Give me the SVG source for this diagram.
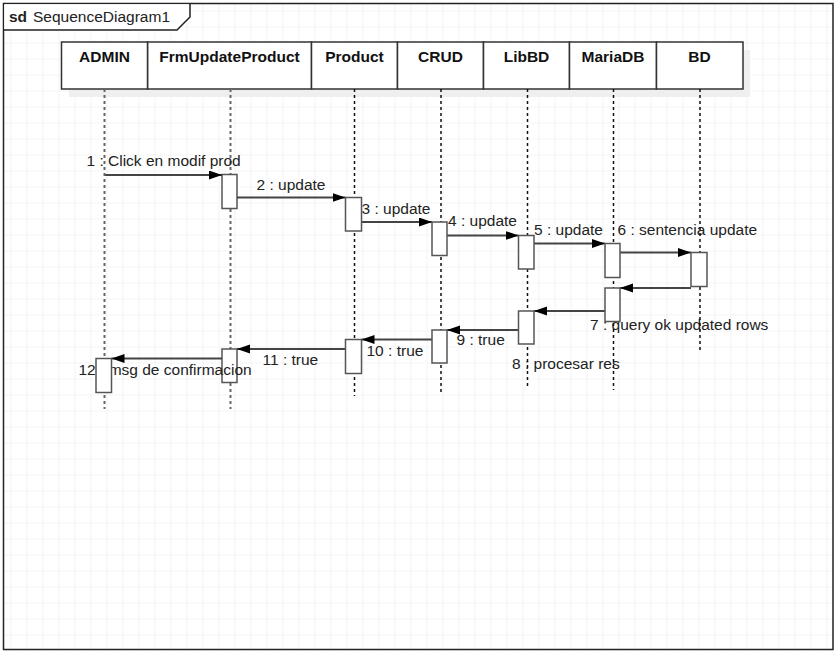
<svg xmlns="http://www.w3.org/2000/svg" width="838" height="651" viewBox="0 0 838 651">
<style>
text{font-family:"Liberation Sans",Arial,sans-serif;font-size:15.5px;fill:#222}
.hd{font-weight:bold;text-anchor:middle;fill:#111}
.head{fill:#fff;stroke:#333;stroke-width:1.5}
.life1{stroke:#666;stroke-width:2;stroke-dasharray:3 3;fill:none}
.life2{stroke:#111;stroke-width:1.5;stroke-dasharray:3 3;fill:none}
.act{fill:#fff;stroke:#555;stroke-width:1.5}
.msg{stroke:#444;stroke-width:1.8;fill:none;marker-end:url(#ah)}
</style>
<defs>
<pattern id="grid" x="10.5" y="10.5" width="16" height="16" patternUnits="userSpaceOnUse">
<path d="M0 0H16M0 0V16" stroke="#ebebeb" stroke-width="1.2" fill="none"/>
</pattern>
<marker id="ah" markerUnits="userSpaceOnUse" markerWidth="14" markerHeight="10" refX="13" refY="4.5" orient="auto">
<path d="M0,0 L13,4.5 L0,9 z" fill="#000"/>
</marker>
</defs>
<rect width="838" height="651" fill="#fff"/>
<rect x="3" y="3" width="830" height="648" fill="url(#grid)"/>
<g id="frame">
<rect x="3.5" y="3.5" width="829.5" height="646" fill="none" stroke="#222" stroke-width="1.5"/>
<path d="M4.3 29.3H176.6L189.3 16.8V4.3H4.3z" fill="#fff"/>
<path d="M3.5 30H177L190 17V3.5" fill="none" stroke="#222" stroke-width="1.5"/>
<text x="9" y="21.5"><tspan font-weight="bold">sd</tspan><tspan x="33">SequenceDiagram1</tspan></text>
</g>
<rect x="69" y="50" width="681" height="47" fill="#efefef"/>
<g id="FrmUpdateProduct">
<rect class="head" x="147.5" y="42" width="164" height="47"/>
<text class="hd" x="229.5" y="61.5">FrmUpdateProduct</text>
<line class="life1" x1="230.5" y1="89" x2="230.5" y2="409"/>
<rect class="act" x="222" y="174.5" width="15" height="34"/>
<rect class="act" x="222" y="349" width="15" height="33.5"/>
</g>
<g id="connectors">
<line class="msg" x1="104.5" y1="175" x2="222" y2="175"/>
<text x="86.5" y="166">1 : Click en modif prod</text>
<line class="msg" x1="237" y1="197.5" x2="345.5" y2="197.5"/>
<text x="256.5" y="190">2 : update</text>
<line class="msg" x1="361.5" y1="222" x2="432" y2="222"/>
<text x="361.5" y="213.5">3 : update</text>
<line class="msg" x1="447" y1="235.5" x2="518.5" y2="235.5"/>
<text x="448" y="226">4 : update</text>
<line class="msg" x1="534" y1="243.5" x2="605" y2="243.5"/>
<text x="534" y="235">5 : update</text>
<line class="msg" x1="620" y1="252.5" x2="691" y2="252.5"/>
<text x="617.5" y="235">6 : sentencia update</text>
<line class="msg" x1="691" y1="288" x2="620" y2="288"/>
<text x="590" y="330">7 : query ok updated rows</text>
<line class="msg" x1="605" y1="311" x2="534" y2="311"/>
<text x="512" y="369">8 : procesar res</text>
<line class="msg" x1="518.5" y1="330" x2="447" y2="330"/>
<text x="456.5" y="344.5">9 : true</text>
<line class="msg" x1="432" y1="339.5" x2="361.5" y2="339.5"/>
<text x="366.5" y="356">10 : true</text>
<line class="msg" x1="345.5" y1="349" x2="237" y2="349"/>
<text x="262.5" y="364.5">11 : true</text>
<line class="msg" x1="222" y1="358.5" x2="111.5" y2="358.5"/>
<text x="78.5" y="374.5">12 : msg de confirmacion</text>
</g>
<g id="ADMIN">
<rect class="head" x="61.5" y="42" width="86" height="47"/>
<text class="hd" x="104.5" y="61.5">ADMIN</text>
<line class="life1" x1="104.5" y1="89" x2="104.5" y2="409"/>
<rect class="act" x="96" y="358.5" width="15.5" height="34"/>
</g>
<g id="Product">
<rect class="head" x="311.5" y="42" width="86" height="47"/>
<text class="hd" x="354.5" y="61.5">Product</text>
<line class="life2" x1="354.5" y1="89" x2="354.5" y2="396"/>
<rect class="act" x="345.5" y="197.5" width="16" height="33.5"/>
<rect class="act" x="345.5" y="339.5" width="16" height="34"/>
</g>
<g id="CRUD">
<rect class="head" x="397.5" y="42" width="86" height="47"/>
<text class="hd" x="440.5" y="61.5">CRUD</text>
<line class="life2" x1="441" y1="89" x2="441" y2="394"/>
<rect class="act" x="432" y="222" width="15" height="33.5"/>
<rect class="act" x="432" y="330" width="15" height="33"/>
</g>
<g id="LibBD">
<rect class="head" x="483.5" y="42" width="86" height="47"/>
<text class="hd" x="526.5" y="61.5">LibBD</text>
<line class="life2" x1="527.5" y1="89" x2="527.5" y2="389"/>
<rect class="act" x="518.5" y="235.5" width="15.5" height="33.5"/>
<rect class="act" x="518.5" y="311" width="15.5" height="33"/>
</g>
<g id="MariaDB">
<rect class="head" x="569.5" y="42" width="87" height="47"/>
<text class="hd" x="613" y="61.5">MariaDB</text>
<line class="life2" x1="613.5" y1="89" x2="613.5" y2="390"/>
<rect class="act" x="605" y="243.5" width="15" height="34"/>
<rect class="act" x="605" y="288" width="15" height="33.5"/>
</g>
<g id="BD">
<rect class="head" x="656.5" y="42" width="86.5" height="47"/>
<text class="hd" x="699.5" y="61.5">BD</text>
<line class="life2" x1="700" y1="89" x2="700" y2="350"/>
<rect class="act" x="691" y="252.5" width="16" height="34"/>
</g>
</svg>
